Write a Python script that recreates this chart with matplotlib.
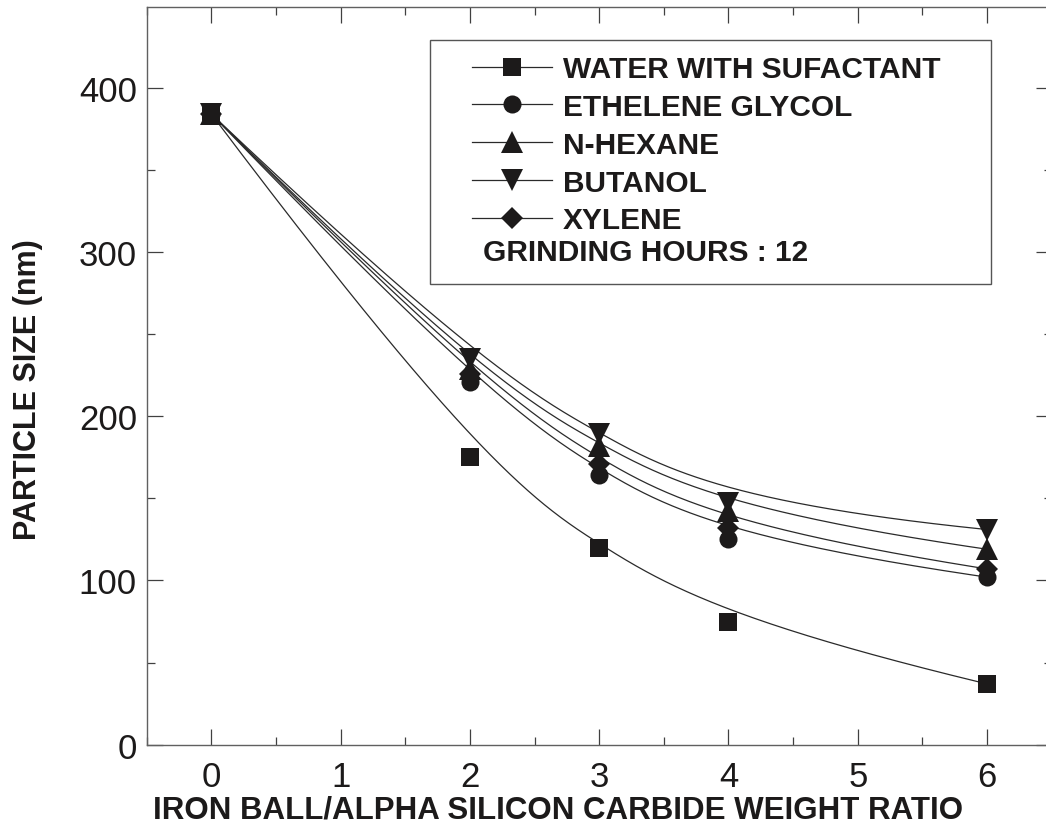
import numpy as np
import matplotlib
matplotlib.use("Agg")
import matplotlib.pyplot as plt
from matplotlib.lines import Line2D
from matplotlib.patches import Rectangle

plt.rcParams['font.family'] = ['Liberation Sans', 'DejaVu Sans']

# weight ratio (iron ball / alpha SiC) and particle size in nm
ratio = np.array([0, 2, 3, 4, 6])
water = np.array([384, 175, 120, 75, 37])
glycol = np.array([384, 221, 164, 125, 102])
hexane = np.array([384, 229, 182, 142, 119])
butanol = np.array([384, 235, 189, 147, 131])
xylene = np.array([384, 226, 171, 132, 107])

names = ['WATER WITH SUFACTANT', 'ETHELENE GLYCOL', 'N-HEXANE', 'BUTANOL', 'XYLENE']
series = [water, glycol, hexane, butanol, xylene]
markers = ['s', 'o', '^', 'v', 'D']
sizes = [13, 13, 16.5, 16.5, 11]
note = 'GRINDING HOURS : 12'


def bspline(px, py, n=300):
    # clamped cubic B-spline using the data points as control points
    k = 3
    m = len(px)
    inner = np.linspace(0, 1, m - k + 1)
    knots = np.concatenate([[0] * k, inner, [1] * k])
    t = np.linspace(0, 1, n)
    t[-1] = 1 - 1e-12

    def basis(i, p, u):
        if p == 0:
            return ((knots[i] <= u) & (u < knots[i + 1])).astype(float)
        out = np.zeros_like(u)
        d1 = knots[i + p] - knots[i]
        d2 = knots[i + p + 1] - knots[i + 1]
        if d1 > 0:
            out += (u - knots[i]) / d1 * basis(i, p - 1, u)
        if d2 > 0:
            out += (knots[i + p + 1] - u) / d2 * basis(i + 1, p - 1, u)
        return out

    N = np.array([basis(i, k, t) for i in range(m)])
    return N.T @ px, N.T @ py


mk_color = '#1c1a1a'
ln_color = '#2a2a2a'

fig = plt.figure(figsize=(10.46, 8.37), dpi=100)
ax = fig.add_axes([146.7 / 1046, 0.1091, 905 / 1046, 0.881])

handles = []
for y, m, s in zip(series, markers, sizes):
    cx, cy = bspline(ratio.astype(float), y.astype(float))
    ax.plot(cx, cy, color=ln_color, lw=0.9, zorder=2)
    ax.plot(ratio, y, linestyle='none', marker=m, ms=s, color=mk_color,
            markeredgewidth=0, zorder=3)
    handles.append(Line2D([], [], color=ln_color, lw=0.9, marker=m, ms=s,
                          markerfacecolor=mk_color, markeredgewidth=0))

ax.set_xlim(-0.5, 6.5)
ax.set_ylim(0, 449)
ax.set_xticks(np.arange(0, 7))
ax.set_xticks(np.arange(-0.5, 6.6, 0.5), minor=True)
ax.set_yticks(np.arange(0, 401, 100))
ax.set_yticks(np.arange(0, 449, 50), minor=True)

for sp in ax.spines.values():
    sp.set_color('#606060')
    sp.set_linewidth(1.0)
ax.tick_params(which='both', direction='in', top=True, right=True,
               color='#404040', width=0.9, labelsize=25, labelcolor='#1c1a1a')
ax.tick_params(which='major', length=11.5)
ax.tick_params(which='minor', length=5.8)
ax.tick_params(axis='y', pad=7)
ax.tick_params(axis='x', pad=11)

fig.text(558 / 1046, 1 - 811 / 837, 'IRON BALL/ALPHA SILICON CARBIDE WEIGHT RATIO',
         ha='center', va='center', fontsize=22.5, fontweight='bold', color='#1c1a1a')
fig.text(28 / 1046, 1 - 390 / 837, 'PARTICLE SIZE (nm)', rotation=90,
         ha='center', va='center', fontsize=22, fontweight='bold', color='#1c1a1a')

# legend box with the grinding time note
fig.patches.append(Rectangle((430 / 1046, 1 - 285 / 837), 561 / 1046, 244 / 837,
                             transform=fig.transFigure, fill=False,
                             edgecolor='#555555', lw=1.0, zorder=5))
leg = ax.legend(handles, names, loc='upper left',
                bbox_to_anchor=(472 / 1046, 1 - 56 / 837), bbox_transform=fig.transFigure,
                frameon=False, prop={'size': 21.5, 'weight': 'bold'},
                handlelength=2.67, handletextpad=0.37, labelspacing=0.33,
                borderpad=0, borderaxespad=0, numpoints=1)
for t in leg.get_texts():
    t.set_color('#1c1a1a')
fig.text(483 / 1046, 1 - 253 / 837, note, ha='left', va='center',
         fontsize=21.5, fontweight='bold', color='#1c1a1a')

fig.savefig('out.png', dpi=100)
